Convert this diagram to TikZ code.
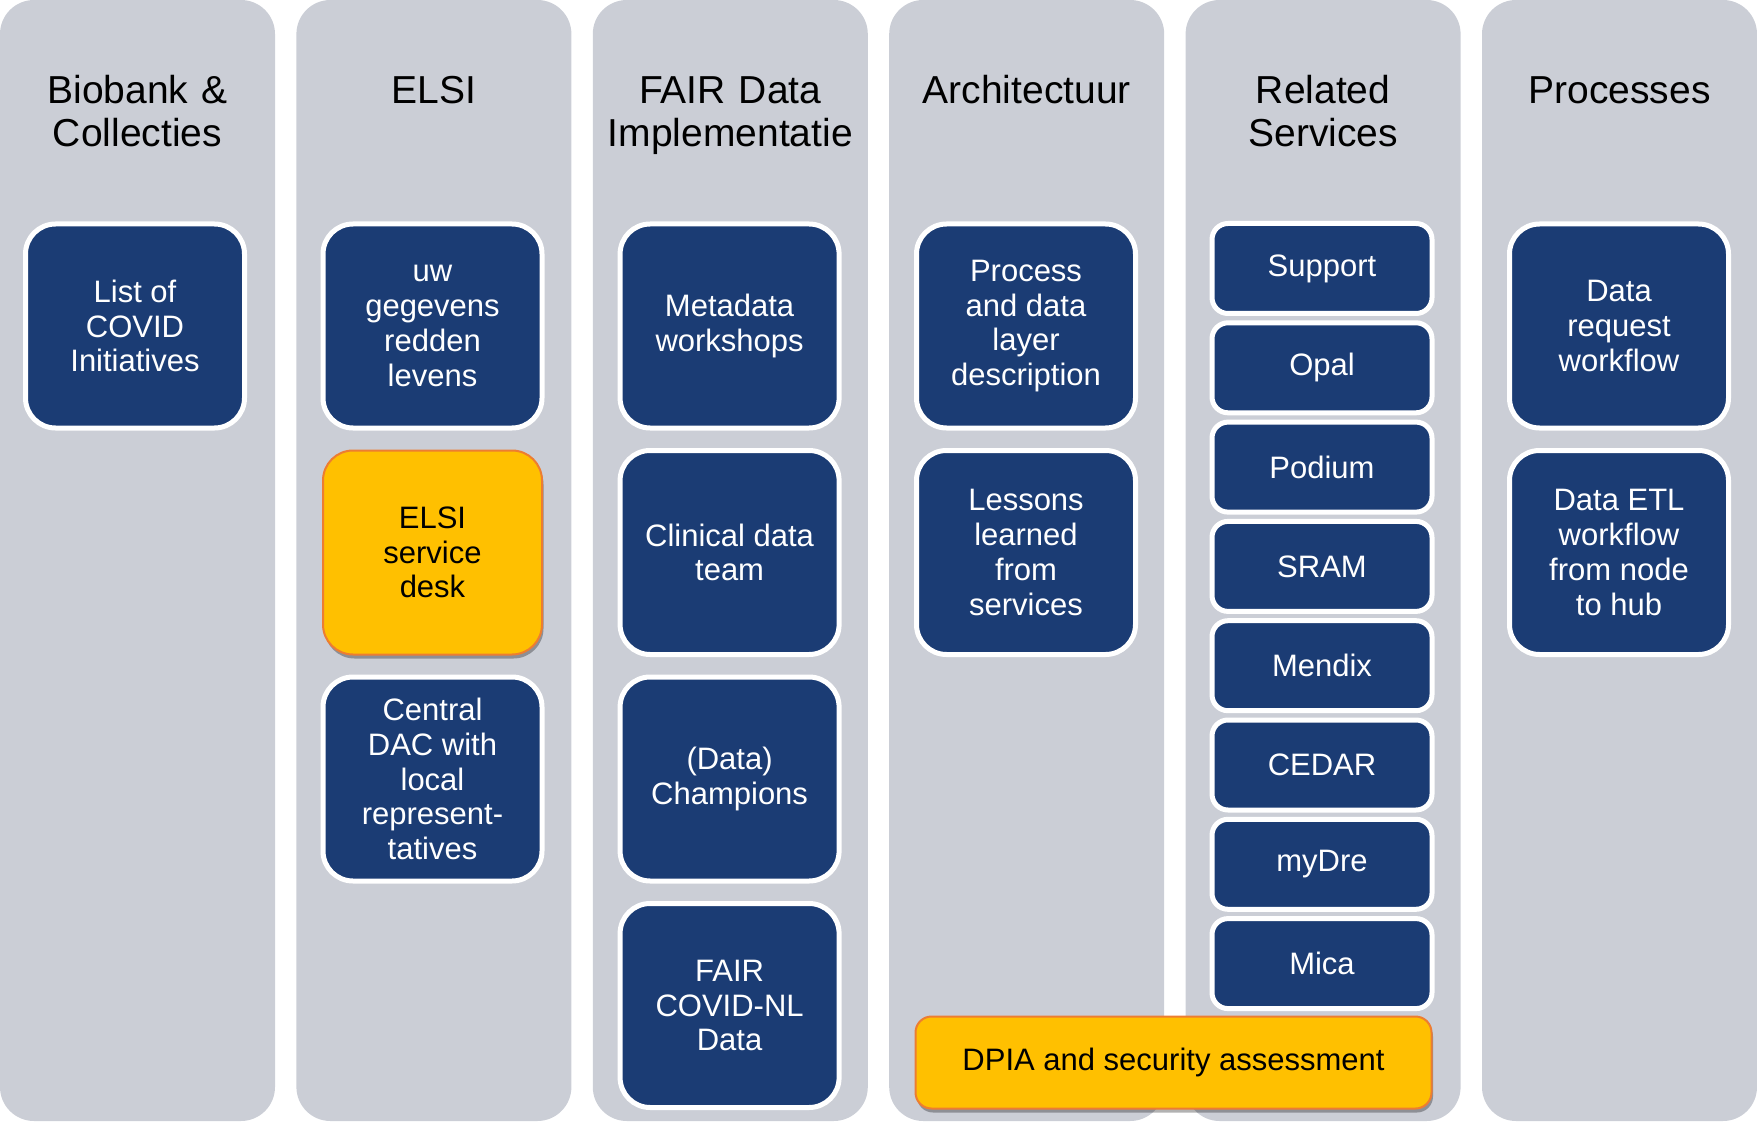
\documentclass[tikz,border=0pt]{standalone}
\usepackage{fontspec}
\setmainfont{Liberation Sans}
\usetikzlibrary{shadows}
\definecolor{lanegray}{HTML}{CBCED6}
\definecolor{cardblue}{HTML}{1B3C74}
\definecolor{alertyellow}{HTML}{FFC000}
\definecolor{alertorange}{HTML}{ED7D31}

\begin{document}
\begin{tikzpicture}[x=1pt, y=-1pt,
    lane/.style={fill=lanegray, rounded corners=34pt, minimum width=275pt,
                 minimum height=1121pt, inner sep=0pt},
    head/.style={anchor=base, text width=272pt, align=center,
                 font=\fontsize{39}{42.6}\selectfont},
    card/.style={draw=white, line width=5pt, fill=cardblue, text=white,
                 rounded corners=30pt, minimum width=219pt, minimum height=204pt,
                 inner sep=0pt, align=center, font=\fontsize{31}{34.7}\selectfont},
    chip/.style={card, rounded corners=16pt, minimum width=220pt, minimum height=90pt},
    warn/.style={draw=alertorange, line width=2pt, fill=alertyellow, text=black,
                 drop shadow={shadow xshift=1.5pt, shadow yshift=-4pt,
                              opacity=0.3, fill=black}}
]
\useasboundingbox (0,0) rectangle (1757,1123);

% --- lanes ---
\node[lane] (l1) at (137.5,560.5) {};
\node[lane] (l2) at (433.9,560.5) {};
\node[lane] (l3) at (730.3,560.5) {};
\node[lane] (l4) at (1026.7,560.5) {};
\node[lane] (l5) at (1323.1,560.5) {};
\node[lane] (l6) at (1619.5,560.5) {};

% --- headings ---
\node[head] (t1) at (137.5,104) {Biobank \&\\Collecties};
\node[head] (t2) at (433.9,104) {ELSI};
\node[head] (t3) at (730.3,104) {FAIR Data\\Implementatie};
\node[head] (t4) at (1026.7,104) {Architectuur};
\node[head] (t5) at (1323.1,104) {Related\\Services};
\node[head] (t6) at (1619.5,104) {Processes};

% --- biobank ---
\node[card] (covid) at (135,326) {List of\\COVID\\Initiatives};

% --- elsi ---
\node[card] (uwgeg) at (432.5,326) {uw\\gegevens\\redden\\levens};
\node[card, warn] (desk) at (432.5,552.5) {ELSI\\service\\desk};
\node[card] (dac) at (432.5,779) {Central\\DAC with\\local\\represent-\\tatives};

% --- fair data ---
\node[card] (meta) at (729.6,326) {Metadata\\workshops};
\node[card] (clin) at (729.6,552.5) {Clinical data\\team};
\node[card] (champ) at (729.6,779) {(Data)\\Champions};
\node[card] (fairnl) at (729.6,1005.5) {FAIR\\COVID-NL\\Data};

% --- architectuur ---
\node[card] (layer) at (1026,326) {Process\\and data\\layer\\description};
\node[card] (lessons) at (1026,552.5) {Lessons\\learned\\from\\services};

% --- related services ---
\node[chip] (support) at (1322,268.5) {Support};
\node[chip] (opal)    at (1322,367.8) {Opal};
\node[chip] (podium)  at (1322,467.1) {Podium};
\node[chip] (sram)    at (1322,566.4) {SRAM};
\node[chip] (mendix)  at (1322,665.7) {Mendix};
\node[chip] (cedar)   at (1322,765.0) {CEDAR};
\node[chip] (mydre)   at (1322,864.3) {myDre};
\node[chip] (mica)    at (1322,963.6) {Mica};

% --- processes ---
\node[card] (request) at (1619,326) {Data\\request\\workflow};
\node[card] (etl) at (1619,552.5) {Data ETL\\workflow\\from node\\to hub};

% --- dpia ---
\node[card, warn, rounded corners=16pt, minimum width=516pt, minimum height=92pt]
  (dpia) at (1173.5,1062.5) {DPIA and security assessment};

\end{tikzpicture}
\end{document}
